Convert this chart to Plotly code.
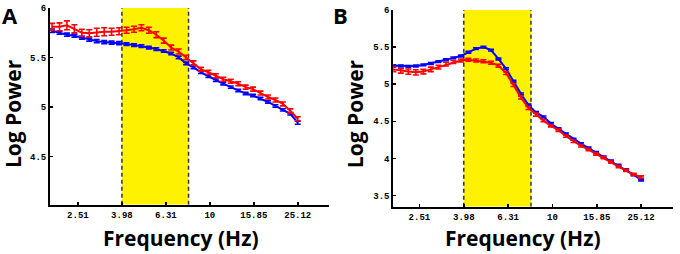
import plotly.graph_objects as go
from plotly.subplots import make_subplots

# ---- data ----
freq = [1.914, 2.070, 2.237, 2.419, 2.616, 2.828, 3.057, 3.306, 3.573, 3.863,
        4.177, 4.516, 4.882, 5.278, 5.706, 6.169, 6.670, 7.210, 7.795, 8.428,
        9.112, 9.851, 10.65, 11.51, 12.45, 13.46, 14.55, 15.73, 17.01, 18.39,
        19.88, 21.49, 23.23, 25.12]

a_blue = [5.77, 5.75, 5.73, 5.72, 5.70, 5.68, 5.665, 5.655, 5.65, 5.645,
          5.635, 5.625, 5.615, 5.60, 5.585, 5.565, 5.54, 5.50, 5.44, 5.40,
          5.35, 5.31, 5.27, 5.235, 5.20, 5.165, 5.135, 5.115, 5.085, 5.05,
          5.01, 4.97, 4.93, 4.84]
a_blue_err = [0.018, 0.016, 0.016, 0.016, 0.015, 0.015, 0.015, 0.015, 0.015, 0.015,
              0.013, 0.013, 0.013, 0.013, 0.013, 0.013, 0.013, 0.013, 0.013, 0.013,
              0.012, 0.012, 0.012, 0.012, 0.012, 0.012, 0.012, 0.012, 0.012, 0.012,
              0.012, 0.012, 0.012, 0.015]
a_red = [5.81, 5.81, 5.825, 5.79, 5.75, 5.745, 5.755, 5.76, 5.76, 5.765,
         5.775, 5.785, 5.80, 5.775, 5.73, 5.67, 5.60, 5.56, 5.50, 5.445,
         5.38, 5.35, 5.315, 5.28, 5.26, 5.235, 5.20, 5.18, 5.14, 5.10,
         5.07, 5.03, 4.96, 4.88]
a_red_err = [0.035, 0.04, 0.045, 0.04, 0.035, 0.035, 0.04, 0.04, 0.035, 0.035,
             0.03, 0.03, 0.03, 0.03, 0.03, 0.025, 0.025, 0.025, 0.022, 0.02,
             0.02, 0.02, 0.02, 0.02, 0.02, 0.02, 0.02, 0.02, 0.02, 0.02,
             0.02, 0.02, 0.02, 0.02]

b_blue = [5.25, 5.245, 5.24, 5.245, 5.26, 5.28, 5.305, 5.33, 5.355, 5.38,
          5.43, 5.48, 5.50, 5.46, 5.34, 5.21, 5.04, 4.87, 4.72, 4.62,
          4.56, 4.47, 4.40, 4.33, 4.26, 4.20, 4.14, 4.08, 4.02, 3.965,
          3.91, 3.85, 3.78, 3.71]
b_blue_err = [0.012] * 34
b_red = [5.20, 5.18, 5.17, 5.16, 5.17, 5.20, 5.23, 5.27, 5.30, 5.32,
         5.33, 5.32, 5.31, 5.29, 5.25, 5.15, 4.99, 4.82, 4.68, 4.59,
         4.51, 4.44, 4.38, 4.30, 4.23, 4.17, 4.12, 4.06, 4.01, 3.95,
         3.89, 3.84, 3.785, 3.75]
b_red_err = [0.03, 0.03, 0.035, 0.035, 0.03, 0.03, 0.025, 0.025, 0.02, 0.02,
             0.02, 0.02, 0.02, 0.02, 0.02, 0.02, 0.02, 0.02, 0.02, 0.02,
             0.015, 0.015, 0.015, 0.015, 0.015, 0.015, 0.015, 0.015, 0.015, 0.015,
             0.015, 0.015, 0.015, 0.015]

band = [3.98, 8.0]
x_ticks = [2.51, 3.98, 6.31, 10, 15.85, 25.12]
x_tick_labels = ["2.51", "3.98", "6.31", "10", "15.85", "25.12"]
a_y_ticks = [4.5, 5, 5.5, 6]
a_y_labels = ["4.5", "5", "5.5", "6"]
b_y_ticks = [3.5, 4, 4.5, 5, 5.5, 6]
b_y_labels = ["3.5", "4", "4.5", "5", "5.5", "6"]
a_yrange = [4.01, 6.0]
b_yrange = [3.35, 6.0]

BLUE = "#0000FF"
RED = "#FF0000"
YELLOW = "#FFF200"

fig = make_subplots(rows=1, cols=2, horizontal_spacing=0.1)

def add_panel(col, blue, blue_err, red, red_err, yr):
    # yellow band
    fig.add_trace(go.Scatter(x=[band[0], band[1], band[1], band[0], band[0]],
                             y=[yr[0], yr[0], yr[1], yr[1], yr[0]],
                             fill="toself", fillcolor=YELLOW, mode="none",
                             hoverinfo="skip", showlegend=False), row=1, col=col)
    for bx in band:
        fig.add_trace(go.Scatter(x=[bx, bx], y=yr, mode="lines",
                                 line=dict(color="#333333", width=1.5, dash="4px,3px"),
                                 hoverinfo="skip", showlegend=False), row=1, col=col)
    fig.add_trace(go.Scatter(x=freq, y=blue, mode="lines",
                             line=dict(color=BLUE, width=2),
                             error_y=dict(type="data", array=blue_err, color=BLUE,
                                          thickness=1.6, width=3),
                             showlegend=False), row=1, col=col)
    fig.add_trace(go.Scatter(x=freq, y=red, mode="lines",
                             line=dict(color=RED, width=2),
                             error_y=dict(type="data", array=red_err, color=RED,
                                          thickness=1.6, width=3),
                             showlegend=False), row=1, col=col)

add_panel(1, a_blue, a_blue_err, a_red, a_red_err, a_yrange)
add_panel(2, b_blue, b_blue_err, b_red, b_red_err, b_yrange)

tickfont = dict(family="Liberation Mono", size=9, color="black", weight="bold")
common_x = dict(type="log", tickvals=x_ticks, ticktext=x_tick_labels,
                showline=True, linecolor="black", linewidth=2, ticks="inside",
                ticklen=3, tickwidth=1.5, tickcolor="black", showgrid=False,
                zeroline=False, tickfont=tickfont, mirror=False)
common_y = dict(showline=True, linecolor="black", linewidth=2, ticks="inside",
                ticklen=3, tickwidth=1.5, tickcolor="black", showgrid=False,
                zeroline=False, tickfont=tickfont, mirror=False)

fig.update_xaxes(**common_x)
fig.update_yaxes(**common_y)
fig.update_layout(
    xaxis=dict(domain=[0.0, 0.4478], range=[0.2727, 1.542]),
    xaxis2=dict(domain=[0.551, 1.0], range=[0.2817, 1.544]),
    yaxis=dict(domain=[0.011, 1.0], range=a_yrange, tickvals=a_y_ticks, ticktext=a_y_labels),
    yaxis2=dict(domain=[0.0015, 0.99], range=b_yrange, tickvals=b_y_ticks, ticktext=b_y_labels),
)

ylab_font = dict(family="Open Sans", size=21, color="black", weight="bold")
xlab_font = dict(family="Open Sans", size=21, color="black", weight="bold")
panel_font = dict(family="Open Sans", size=22, color="black", weight="bold")
annotations = [
    dict(text="Log Power", x=-0.059, y=0.468, textangle=-90, font=ylab_font),
    dict(text="Log Power", x=0.490, y=0.468, textangle=-90, font=ylab_font),
    dict(text="Frequency (Hz)", x=0.211, y=-0.158, font=xlab_font),
    dict(text="Frequency (Hz)", x=0.759, y=-0.158, font=xlab_font),
    dict(text="A", x=-0.064, y=0.965, font=panel_font),
    dict(text="B", x=0.467, y=0.965, font=panel_font),
]
for a in annotations:
    a.update(xref="paper", yref="paper", showarrow=False, xanchor="center", yanchor="middle")
fig.update_layout(annotations=annotations)

fig.update_layout(width=680, height=254, margin=dict(l=50, r=7, t=4, b=47),
                  paper_bgcolor="white", plot_bgcolor="white")

fig.write_html("out.html", config={"displayModeBar": False, "staticPlot": True},
               post_script="document.body.style.margin='0';document.body.style.overflow='hidden';")
